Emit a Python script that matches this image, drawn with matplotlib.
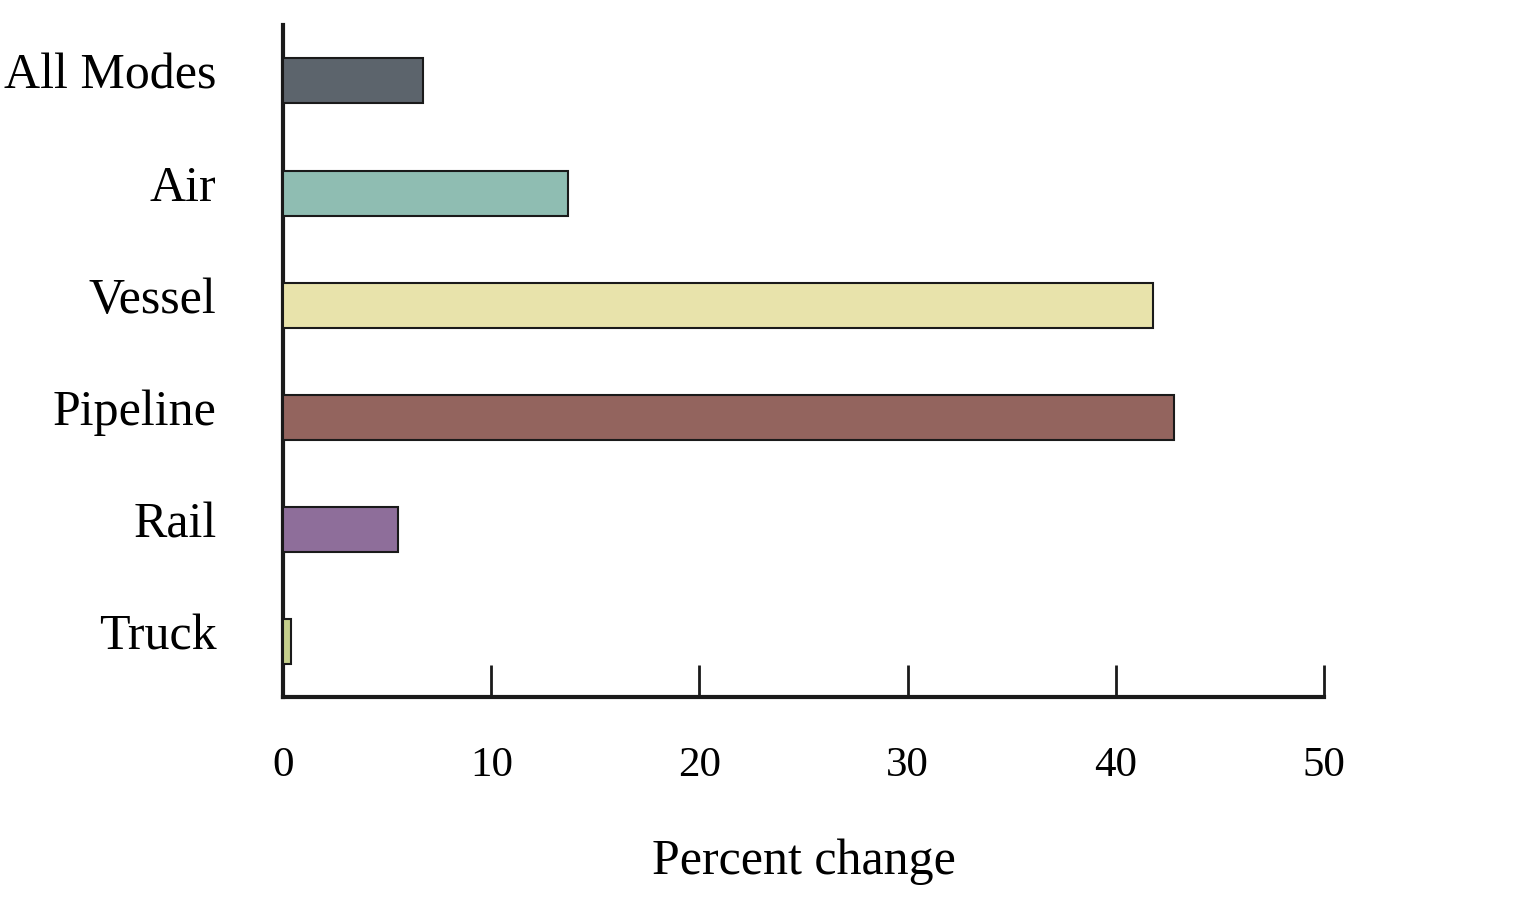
import matplotlib.pyplot as plt
from matplotlib.transforms import ScaledTranslation

plt.rcParams["font.family"] = ["Liberation Serif", "DejaVu Serif"]

modes = ["Truck", "Rail", "Pipeline", "Vessel", "Air", "All Modes"]
pct_change = [0.4, 5.5, 42.8, 41.8, 13.7, 6.7]
bar_colors = ["#c5cf8c", "#8e6e9a", "#93645e", "#e8e3ab", "#8fbdb2", "#5c646c"]
xticks = [0, 10, 20, 30, 40, 50]

fig = plt.figure(figsize=(15.14, 9.17), dpi=100)
ax = fig.add_axes([0.187, 0.24, 0.8745 - 0.187, 0.973 - 0.24])

ax.barh(range(len(modes)), pct_change, height=0.4, color=bar_colors,
        edgecolor="#1a1a1a", linewidth=1.5, zorder=3)

ax.set_xlim(0, 50)
ax.set_ylim(-0.49, 5.5)
ax.set_xticks(xticks)
ax.set_xticklabels([str(t) for t in xticks], fontsize=31)
ax.set_yticks(range(len(modes)))
ax.set_yticklabels(modes, fontsize=36)

ax.tick_params(axis="x", direction="in", length=23, width=2, pad=36, color="#1a1a1a")
ax.tick_params(axis="y", length=0, pad=48)

# labels on the y axis sit a bit above the bar centres in the original
shift = ScaledTranslation(0, 0.1, fig.dpi_scale_trans)
for lbl in ax.get_yticklabels():
    lbl.set_transform(lbl.get_transform() + shift)

for s in ["top", "right"]:
    ax.spines[s].set_visible(False)
for s in ["left", "bottom"]:
    ax.spines[s].set_linewidth(3)
    ax.spines[s].set_color("#1a1a1a")

ax.set_xlabel("Percent change", fontsize=36, labelpad=38)

fig.savefig("out.png", dpi=100)
